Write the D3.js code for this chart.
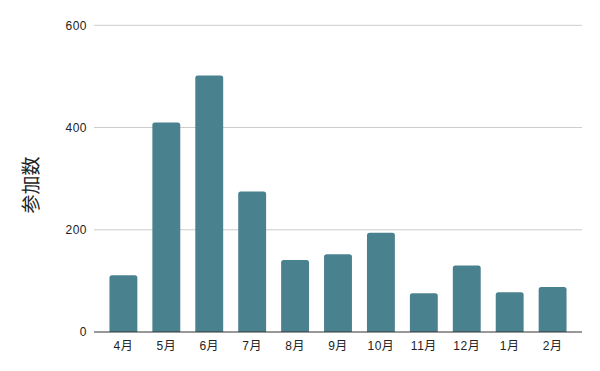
<!DOCTYPE html>
<html>
<head>
<meta charset="utf-8">
<script src="https://cdn.jsdelivr.net/npm/d3@7"></script>
<style>
  html, body { margin: 0; padding: 0; background: #fff; }
  svg { display: block; }
  text { font-family: "Liberation Sans", Arial, "Noto Sans CJK JP", sans-serif; }
</style>
</head>
<body>
<svg id="chart" width="600" height="371"></svg>
<script>
const categories = ["4月", "5月", "6月", "7月", "8月", "9月", "10月", "11月", "12月", "1月", "2月"];
const values = [111, 410, 502, 275, 141, 152, 194, 76, 130, 78, 88];
const yTicks = [0, 200, 400, 600];
const yTitle = "参加数";

(function () {
const svg = d3.select("#chart");
const mLeft = 94, mRight = 582, mTop = 25.3, mBottom = 332;

const x = d3.scaleBand().domain(categories).range([mLeft, mRight]).paddingInner(0.35).paddingOuter(0.36);
const y = d3.scaleLinear().domain([0, 600]).range([mBottom, mTop]);

// gridlines
svg.append("g").selectAll("line").data(yTicks.filter(d => d !== 0)).join("line")
  .attr("x1", mLeft).attr("x2", mRight)
  .attr("y1", d => y(d)).attr("y2", d => y(d))
  .attr("stroke", "#cccccc").attr("stroke-width", 1);

// y tick labels
svg.append("g").selectAll("text").data(yTicks).join("text")
  .attr("x", mLeft - 7).attr("y", d => y(d)).attr("dy", "0.35em")
  .attr("text-anchor", "end").attr("font-size", 12).attr("fill", "#222")
  .attr("letter-spacing", 0.5)
  .text(d => d);

// bars with rounded top corners
const r = 2.5;
svg.append("g").selectAll("path").data(values).join("path")
  .attr("fill", "#4a818f")
  .attr("d", (d, i) => {
    const x0 = x(categories[i]), w = x.bandwidth(), y0 = y(d), yb = y(0);
    return `M${x0},${yb} L${x0},${y0 + r} Q${x0},${y0} ${x0 + r},${y0} L${x0 + w - r},${y0} Q${x0 + w},${y0} ${x0 + w},${y0 + r} L${x0 + w},${yb} Z`;
  });

// baseline axis
svg.append("line").attr("x1", mLeft).attr("x2", mRight)
  .attr("y1", y(0)).attr("y2", y(0)).attr("stroke", "#333").attr("stroke-width", 1);

// x labels
svg.append("g").selectAll("text").data(categories).join("text")
  .attr("x", d => x(d) + x.bandwidth() / 2).attr("y", 346).attr("dy", "0.35em")
  .attr("text-anchor", "middle").attr("font-size", 12).attr("fill", "#222")
  .attr("letter-spacing", 0.5)
  .text(d => d);

// y title
svg.append("text")
  .attr("transform", `translate(38, 185) rotate(-90)`)
  .attr("text-anchor", "middle").attr("font-size", 19).attr("fill", "#222")
  .attr("font-family", "'Noto Sans CJK JP', sans-serif")
  .text(yTitle);
})();
</script>
</body>
</html>
